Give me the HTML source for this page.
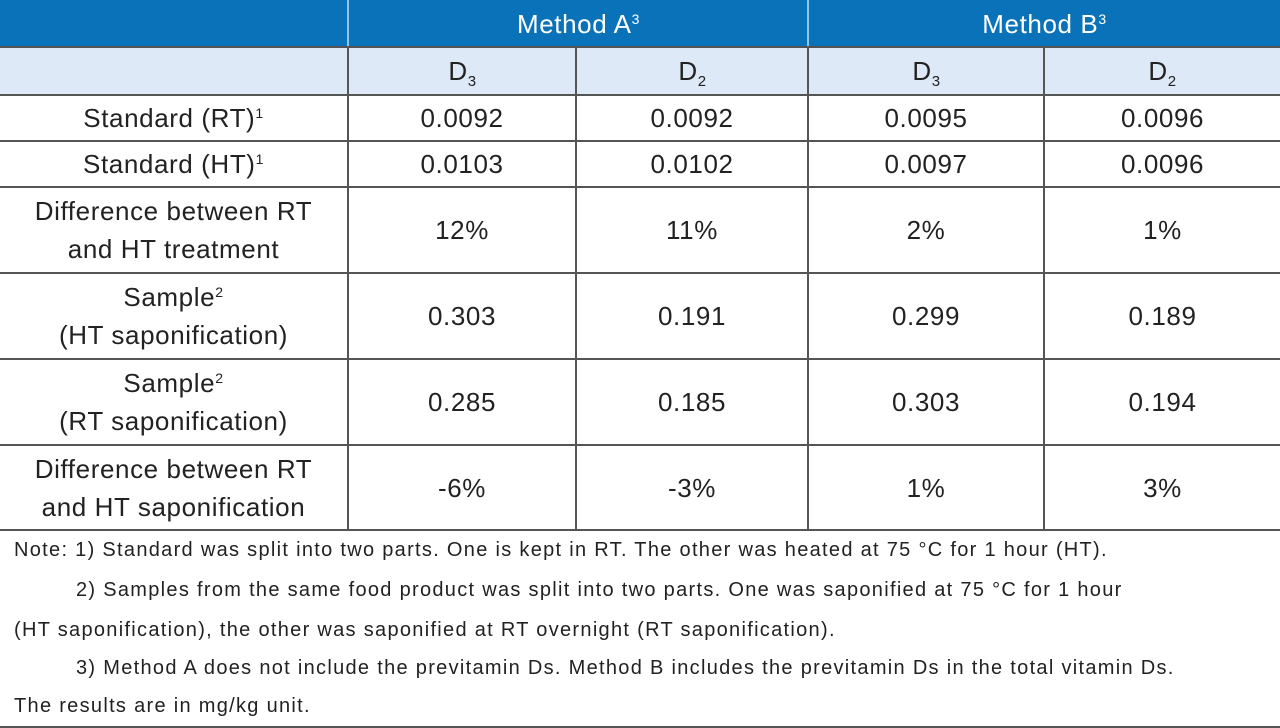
<!DOCTYPE html>
<html><head><meta charset="utf-8"><style>
body{margin:0;width:1280px;height:728px;background:#fff;position:relative;overflow:hidden;font-family:"Liberation Sans",sans-serif;color:#222}
.c{position:absolute;display:flex;align-items:center;justify-content:center;text-align:center;font-size:26px;line-height:38px;box-sizing:border-box;letter-spacing:0.6px}
.c>span{display:block}
.h{background:#0a72b9;color:#fff}
.s{background:#dde9f6}
.hl{position:absolute;height:2px;background:#555}
.vl{position:absolute;width:2px;background:#555}
.n{position:absolute;left:14px;font-size:20px;color:#222;white-space:nowrap;letter-spacing:1.3px}
sup{font-size:14px;vertical-align:9px;line-height:0}
sub{font-size:15px;vertical-align:-6px;line-height:0}
</style></head><body>
<div class="c h" style="left:0;top:0;width:1280px;height:47px"></div>
<div class="c h" style="left:349px;top:0;width:459px;height:47px"><span>Method A<sup>3</sup></span></div>
<div class="c h" style="left:809px;top:0;width:471px;height:47px"><span>Method B<sup>3</sup></span></div>
<div style="position:absolute;left:347px;top:0;width:2px;height:47px;background:#8cc8f0"></div>
<div style="position:absolute;left:807px;top:0;width:2px;height:47px;background:#8cc8f0"></div>
<div class="c s" style="left:0;top:47px;width:1280px;height:48px"></div>
<div class="c" style="left:349px;top:47px;width:227px;height:48px"><span>D<sub>3</sub></span></div>
<div class="c" style="left:577px;top:47px;width:231px;height:48px"><span>D<sub>2</sub></span></div>
<div class="c" style="left:809px;top:47px;width:235px;height:48px"><span>D<sub>3</sub></span></div>
<div class="c" style="left:1045px;top:47px;width:235px;height:48px"><span>D<sub>2</sub></span></div>

<div class="hl" style="left:0;top:46px;width:1280px"></div>
<div class="hl" style="left:0;top:94px;width:1280px"></div>
<div class="hl" style="left:0;top:140px;width:1280px"></div>
<div class="hl" style="left:0;top:186px;width:1280px"></div>
<div class="hl" style="left:0;top:272px;width:1280px"></div>
<div class="hl" style="left:0;top:358px;width:1280px"></div>
<div class="hl" style="left:0;top:444px;width:1280px"></div>
<div class="hl" style="left:0;top:529px;width:1280px"></div>
<div class="hl" style="left:0;top:726px;width:1280px"></div>
<div class="vl" style="left:347px;top:47px;height:483px"></div>
<div class="vl" style="left:575px;top:47px;height:483px"></div>
<div class="vl" style="left:807px;top:47px;height:483px"></div>
<div class="vl" style="left:1043px;top:47px;height:483px"></div>

<script>
const labels=["Standard (RT)<sup>1</sup>","Standard (HT)<sup>1</sup>","Difference between RT<br>and HT treatment","Sample<sup>2</sup><br>(HT saponification)","Sample<sup>2</sup><br>(RT saponification)","Difference between RT<br>and HT saponification"];
const vals=[["0.0092","0.0092","0.0095","0.0096"],["0.0103","0.0102","0.0097","0.0096"],["12%","11%","2%","1%"],["0.303","0.191","0.299","0.189"],["0.285","0.185","0.303","0.194"],["-6%","-3%","1%","3%"]];
const ys=[95,141,187,273,359,445,530];
const xs=[[0,347],[349,226],[577,230],[809,234],[1045,235]];
const root=document.body;
labels.forEach((l,i)=>{
  const cells=[l].concat(vals[i]);
  cells.forEach((t,j)=>{
    const d=document.createElement('div');
    d.className='c';
    d.style.left=xs[j][0]+'px';d.style.width=xs[j][1]+'px';
    d.style.top=ys[i]+'px';d.style.height=(ys[i+1]-ys[i])+'px';
    d.innerHTML='<span>'+t+'</span>';
    
    
    root.appendChild(d);
  });
});
</script>
<div class="n" style="top:539px">Note: 1) Standard was split into two parts. One is kept in RT. The other was heated at 75 °C for 1 hour (HT).</div>
<div class="n" style="top:579px;left:76px">2) Samples from the same food product was split into two parts. One was saponified at 75 °C for 1 hour</div>
<div class="n" style="top:619px">(HT saponification), the other was saponified at RT overnight (RT saponification).</div>
<div class="n" style="top:657px;left:76px">3) Method A does not include the previtamin Ds. Method B includes the previtamin Ds in the total vitamin Ds.</div>
<div class="n" style="top:695px">The results are in mg/kg unit.</div>
</body></html>
